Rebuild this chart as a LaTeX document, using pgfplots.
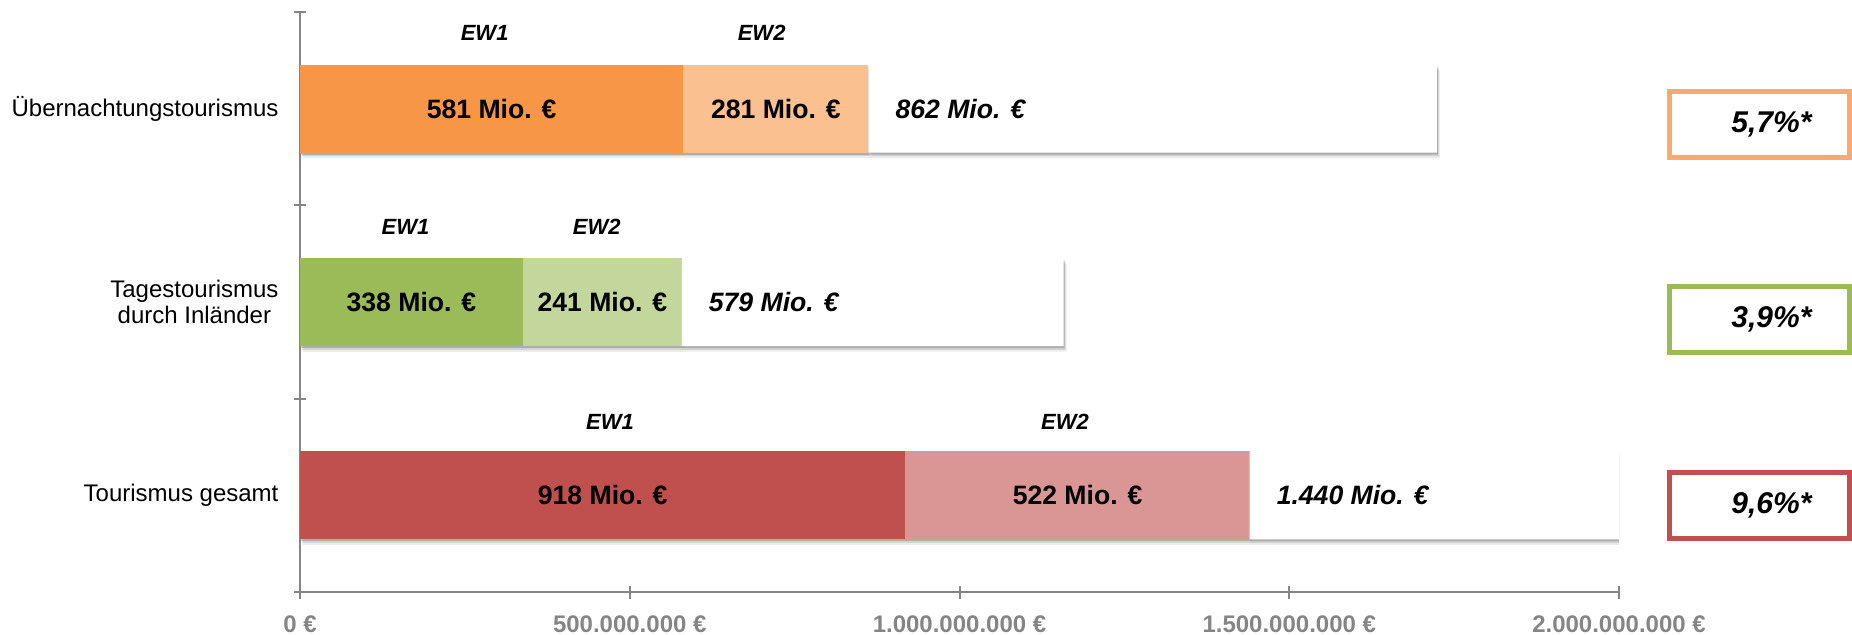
\documentclass[border=0pt]{standalone}
\usepackage{fontspec}
\setmainfont{Liberation Sans}
\usepackage{pgfplots}
\pgfplotsset{compat=1.18}
\usetikzlibrary{shadows}
\definecolor{orA}{HTML}{F79646}
\definecolor{orB}{HTML}{FAC090}
\definecolor{grA}{HTML}{9BBB59}
\definecolor{grB}{HTML}{C3D69B}
\definecolor{rdA}{HTML}{C0504D}
\definecolor{rdB}{HTML}{D99694}
\definecolor{boxor}{HTML}{F9AA6C}
\definecolor{axgray}{HTML}{858585}
\begin{document}
\begin{tikzpicture}
\begin{axis}[
  at={(150pt,21pt)}, anchor=south west,
  scale only axis, width=659.5pt, height=290pt,
  xbar stacked, bar width=44pt, reverse stacked plots=false,
  xmin=0, xmax=2000, ymin=-0.5, ymax=2.5,
  clip mode=individual,
  axis x line*=bottom, axis y line*=left,
  axis line style={draw=axgray, line width=1pt, -},
  xtick={0,500,1000,1500,2000},
  xticklabels={0 €, 500.000.000 €, 1.000.000.000 €, 1.500.000.000 €, 2.000.000.000 €},
  xticklabel style={font=\fontsize{12}{14}\selectfont\bfseries, text=axgray, yshift=-5pt},
  ytick={0,1,2},
  yticklabels={Tourismus gesamt, {Tagestourismus\\durch Inländer}, Übernachtungstourismus},
  yticklabel style={font=\fontsize{12}{13.2}\selectfont, align=center, xshift=-4pt},
  minor ytick={-0.5,0.5,1.5,2.5},
  tick align=center,
  major tick length=6.5pt, minor tick length=6pt,
  every tick/.style={draw=axgray, line width=1pt},
  every major y tick/.style={draw=none},
  every minor y tick/.style={draw=axgray, line width=1pt},
  shadow/.style={
    drop shadow={shadow xshift=1.5pt, shadow yshift=-2.8pt, fill=black, opacity=0.07},
    drop shadow={shadow xshift=1.0pt, shadow yshift=-1.9pt, fill=black, opacity=0.11},
    drop shadow={shadow xshift=0.5pt, shadow yshift=-1.0pt, fill=black, opacity=0.18}},
]
% EW1
\addplot[fill=rdA, draw=none, shadow] coordinates {(918,0) (0,1) (0,2)};
\addplot[fill=grA, draw=none, shadow] coordinates {(0,0) (338,1) (0,2)};
\addplot[fill=orA, draw=none, shadow] coordinates {(0,0) (0,1) (581,2)};
% EW2
\addplot[fill=rdB, draw=none, shadow] coordinates {(522,0) (0,1) (0,2)};
\addplot[fill=grB, draw=none, shadow] coordinates {(0,0) (241,1) (0,2)};
\addplot[fill=orB, draw=none, shadow] coordinates {(0,0) (0,1) (281,2)};
% total (white)
\addplot[fill=white, draw=none, shadow] coordinates {(1440,0) (579,1) (862,2)};

\tikzset{vl/.style={font=\fontsize{13.3}{16}\selectfont\bfseries},
         tl/.style={font=\fontsize{13.3}{16}\selectfont\bfseries\itshape, anchor=west, xshift=10pt},
         ew/.style={font=\fontsize{11}{13}\selectfont\bfseries\itshape},
         bx/.style={line width=2.5pt, minimum width=90pt, minimum height=33pt, fill=white,
                    font=\fontsize{15}{18}\selectfont\bfseries\itshape}}
\node[vl] at (axis cs:290.5,2) {581 Mio. €};
\node[vl] at (axis cs:721.5,2) {281 Mio. €};
\node[tl] at (axis cs:862,2) {862 Mio. €};
\node[vl] at (axis cs:169,1) {338 Mio. €};
\node[vl] at (axis cs:458.5,1) {241 Mio. €};
\node[tl] at (axis cs:579,1) {579 Mio. €};
\node[vl] at (axis cs:459,0) {918 Mio. €};
\node[vl] at (axis cs:1179,0) {522 Mio. €};
\node[tl] at (axis cs:1440,0) {1.440 Mio. €};

\node[ew] at (axis cs:280,2.39) {EW1};
\node[ew] at (axis cs:700,2.39) {EW2};
\node[ew] at (axis cs:160,1.39) {EW1};
\node[ew] at (axis cs:450,1.39) {EW2};
\node[ew] at (axis cs:470,0.38) {EW1};
\node[ew] at (axis cs:1160,0.38) {EW2};

\node[bx, draw=boxor] at (axis cs:2213,1.92) {\hspace*{12pt}5,7\%*};
\node[bx, draw=grA] at (axis cs:2213,0.91) {\hspace*{12pt}3,9\%*};
\node[bx, draw=rdA] at (axis cs:2213,-0.05) {\hspace*{12pt}9,6\%*};
\end{axis}
\pgfresetboundingbox
\path[use as bounding box] (0,0) rectangle (926pt,317pt);
\end{tikzpicture}
\end{document}
